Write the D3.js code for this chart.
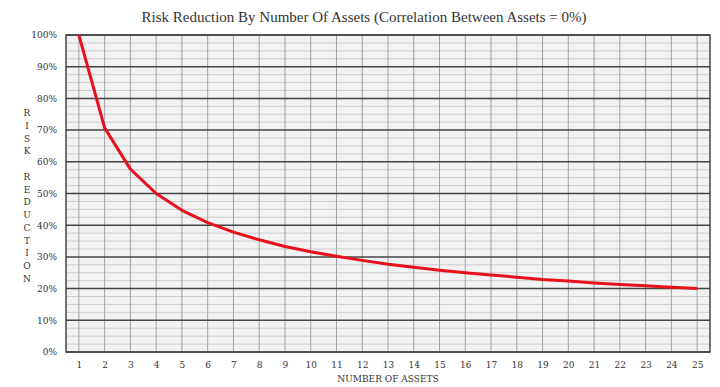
<!DOCTYPE html>
<html>
<head>
<meta charset="utf-8">
<script src="https://cdn.jsdelivr.net/npm/d3@7"></script>
<style>
  body { margin: 0; background: #fff; }
  svg text { font-family: "DejaVu Serif", "Liberation Serif", serif; fill: #333; }
</style>
</head>
<body>
<div id="chart"></div>
<script>
// number of assets held
const assets = [1,2,3,4,5,6,7,8,9,10,11,12,13,14,15,16,17,18,19,20,21,22,23,24,25];
// risk remaining (%)
const risk = [100, 70.7, 57.7, 50, 44.7, 40.8, 37.8, 35.4, 33.3, 31.6, 30.2, 28.9, 27.7,
              26.7, 25.8, 25, 24.3, 23.6, 22.9, 22.4, 21.8, 21.3, 20.9, 20.4, 20];
const yTicks = [0,10,20,30,40,50,60,70,80,90,100];
const yMinor = d3.range(0, 100, 2.5).filter(v => v % 10 !== 0);
const yLabel = ["R","I","S","K","","R","E","D","U","C","T","I","O","N"];

const width = 720, height = 387;
const margin = {left: 66, right: 10, top: 35, bottom: 35};

const svg = d3.select("#chart").append("svg")
  .attr("width", width)
  .attr("height", height);

const x = d3.scaleLinear()
  .domain([0.5, 25.5])
  .range([margin.left, width - margin.right]);

const y = d3.scaleLinear()
  .domain([0, 100])
  .range([height - margin.bottom, margin.top]);

// plot background
svg.append("rect")
  .attr("x", x(0.5)).attr("y", y(100))
  .attr("width", x(25.5) - x(0.5))
  .attr("height", y(0) - y(100))
  .attr("fill", "#f2f2f2");

// minor horizontal lines
svg.append("g").selectAll("line")
  .data(yMinor)
  .join("line")
  .attr("x1", x(0.5)).attr("x2", x(25.5))
  .attr("y1", d => y(d)).attr("y2", d => y(d))
  .attr("stroke", "#cccccc")
  .attr("stroke-width", 1);

// vertical grid lines at each asset count
svg.append("g").selectAll("line")
  .data(assets)
  .join("line")
  .attr("x1", d => x(d)).attr("x2", d => x(d))
  .attr("y1", y(0)).attr("y2", y(100))
  .attr("stroke", "#a0a0a0")
  .attr("stroke-width", 1);

// major horizontal lines
svg.append("g").selectAll("line")
  .data(yTicks)
  .join("line")
  .attr("x1", x(0.5)).attr("x2", x(25.5))
  .attr("y1", d => y(d)).attr("y2", d => y(d))
  .attr("stroke", "#444")
  .attr("stroke-width", 1.5);

// frame
svg.append("rect")
  .attr("x", x(0.5)).attr("y", y(100))
  .attr("width", x(25.5) - x(0.5))
  .attr("height", y(0) - y(100))
  .attr("fill", "none")
  .attr("stroke", "#444")
  .attr("stroke-width", 1.5);

// y axis labels
const yAxis = d3.axisLeft(y).tickValues(yTicks).tickSize(0).tickPadding(9).tickFormat(d => d + "%");
svg.append("g")
  .attr("transform", `translate(${margin.left},0)`)
  .call(yAxis)
  .call(g => g.select(".domain").remove())
  .call(g => g.selectAll("text").attr("font-size", 9).attr("fill", "#333")
    .style("font-family", "'DejaVu Serif', serif"));

// x axis labels
const xAxis = d3.axisBottom(x).tickValues(assets).tickSize(0).tickPadding(10).tickFormat(d3.format("d"));
svg.append("g")
  .attr("transform", `translate(0,${height - margin.bottom})`)
  .call(xAxis)
  .call(g => g.select(".domain").remove())
  .call(g => g.selectAll("text").attr("font-size", 9).attr("fill", "#333")
    .style("font-family", "'DejaVu Serif', serif"));

// risk curve
const line = d3.line()
  .x((d, i) => x(assets[i]))
  .y(d => y(d));

svg.append("path")
  .datum(risk)
  .attr("d", line)
  .attr("fill", "none")
  .attr("stroke", "#e8101c")
  .attr("stroke-width", 3)
  .attr("stroke-linejoin", "round");

// title
svg.append("text")
  .attr("x", 364)
  .attr("y", 22)
  .attr("text-anchor", "middle")
  .attr("font-size", 15)
  .attr("fill", "#222")
  .style("font-family", "'Liberation Serif', serif")
  .text("Risk Reduction By Number Of Assets (Correlation Between Assets = 0%)");

// x axis title
svg.append("text")
  .attr("x", (x(0.5) + x(25.5)) / 2)
  .attr("y", 382)
  .attr("text-anchor", "middle")
  .attr("font-size", 9)
  .text("NUMBER OF ASSETS");

// stacked y axis title
svg.append("g").selectAll("text")
  .data(yLabel)
  .join("text")
  .attr("x", 27)
  .attr("y", (d, i) => 116 + i * 12.75)
  .attr("text-anchor", "middle")
  .attr("font-size", 9)
  .text(d => d);
</script>
</body>
</html>
